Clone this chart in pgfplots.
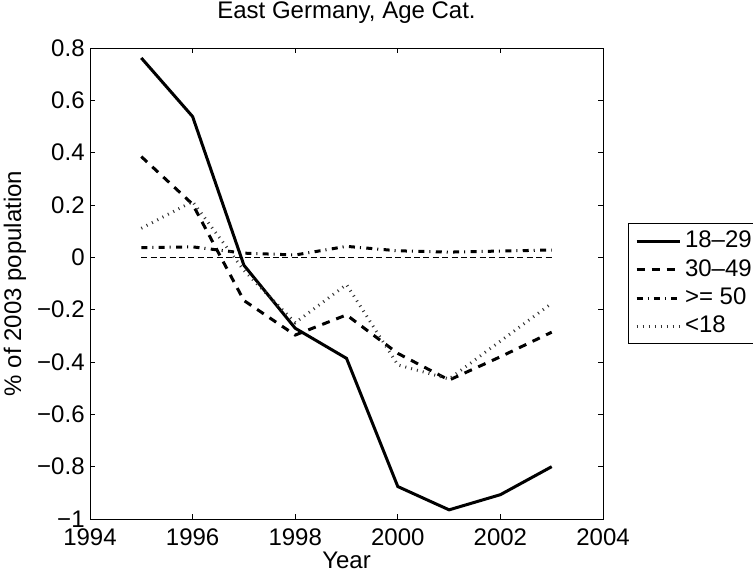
\documentclass[border=0pt]{standalone}
\usepackage{fontspec}
\setmainfont{Liberation Sans}
\usepackage{pgfplots}
\pgfplotsset{compat=1.18}

\begin{document}
\fontsize{12}{14}\selectfont
\begin{tikzpicture}
\begin{axis}[
  scale only axis,
  width=256.5pt, height=235.5pt,
  xmin=1994, xmax=2004, ymin=-1, ymax=0.8,
  xtick={1994,1996,1998,2000,2002,2004},
  xticklabels={1994,1996,1998,2000,2002,2004},
  ytick={-1,-0.8,-0.6,-0.4,-0.2,0,0.2,0.4,0.6,0.8},
  yticklabels={−1,−0.8,−0.6,−0.4,−0.2,0,0.2,0.4,0.6,0.8},
  /pgf/number format/assume math mode=true,
  tick align=inside,
  major tick length=2.5pt,
  tick style={black, line width=0.5pt},
  axis line style={line width=0.5pt},
  xticklabel style={inner sep=0pt, anchor=north, yshift=-4.5pt},
  yticklabel style={inner sep=0pt, anchor=east, xshift=-2.5pt},
  title={East Germany, Age Cat.},
  title style={at={(axis description cs:0.5,1.0382)}, anchor=base, inner sep=0pt},
  xlabel={Year},
  xlabel style={at={(axis description cs:0.5,-0.0692)}, anchor=north, inner sep=0pt},
  ylabel={\% of 2003 population},
  ylabel style={at={(axis description cs:-0.1236,0.5)}, anchor=south, inner sep=0pt},
  legend cell align=left,
  legend style={at={(1.049,0.628)}, anchor=north west, draw=black, line width=0.5pt,
    inner xsep=3.2pt, inner ysep=3pt, row sep=2.7pt, column sep=2pt,
    nodes={inner sep=0pt, text height=9pt, text depth=2.5pt}},
  legend image code/.code={\draw[#1] (0pt,0pt) -- (21.5pt,0pt);},
]
\addplot[black, line width=0.5pt, dash pattern=on 3pt off 1.7pt, forget plot]
  coordinates {(1995,0) (2003,0)};
\addplot[black, line width=1.5pt]
  coordinates {(1995,0.762) (1996,0.538) (1997,-0.03) (1998,-0.271) (1999,-0.386)
               (2000,-0.876) (2001,-0.965) (2002,-0.907) (2003,-0.80)};
\addlegendentry{18--29}
\addplot[black, line width=1.5pt, dash pattern=on 4pt off 3.5pt]
  coordinates {(1995,0.385) (1996,0.203) (1997,-0.165) (1998,-0.297) (1999,-0.22)
               (2000,-0.367) (2001,-0.469) (2002,-0.38) (2003,-0.286)};
\addlegendentry{30--49}
\addplot[black, line width=1.5pt, dash pattern=on 3pt off 2.5pt on 0.5pt off 2.7pt]
  coordinates {(1995,0.037) (1996,0.04) (1997,0.016) (1998,0.009) (1999,0.042)
               (2000,0.025) (2001,0.02) (2002,0.024) (2003,0.028)};
\addlegendentry{>= 50}
\addplot[black!80, line width=1.5pt, dash pattern=on 0.5pt off 2.5pt]
  coordinates {(1995,0.111) (1996,0.213) (1997,-0.05) (1998,-0.25) (1999,-0.104)
               (2000,-0.411) (2001,-0.465) (2002,-0.32) (2003,-0.176)};
\addlegendentry{<18}
\end{axis}
\pgfresetboundingbox
\path (-45pt,-27.5pt) rectangle (331.5pt,259.5pt);
\end{tikzpicture}
\end{document}
